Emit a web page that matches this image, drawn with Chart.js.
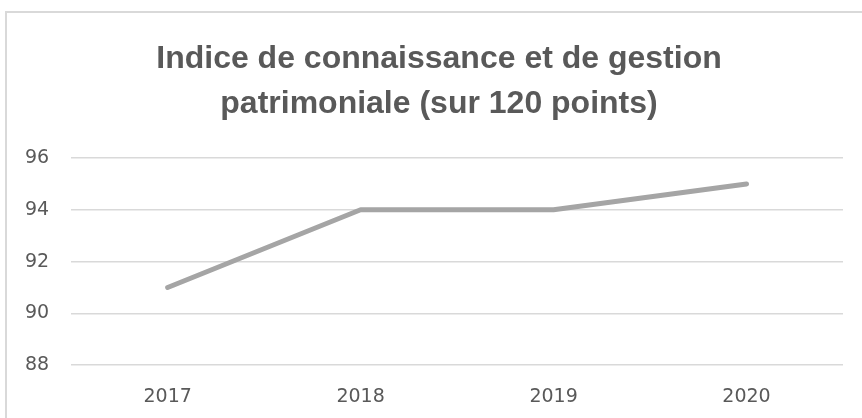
<!DOCTYPE html>
<html>
<head>
<meta charset="utf-8">
<script src="https://cdn.jsdelivr.net/npm/chart.js@4.4.0/dist/chart.umd.min.js"></script>
<style>
  html, body { margin: 0; padding: 0; background: #fff; }
  #wrap { position: relative; width: 862px; height: 418px; overflow: hidden; }
  #frame { position: absolute; left: 5px; top: 11px; width: 900px; height: 450px;
           border: 2px solid #d9d9d9; box-sizing: border-box; }
  #holder { position: absolute; left: 0; top: 0; width: 862px; height: 418px; }
</style>
</head>
<body>
<div id="wrap">
  <div id="frame"></div>
  <div id="holder"><canvas id="lineChart"></canvas></div>
</div>
<script>
const years = ["2017", "2018", "2019", "2020"];
const scores = [91, 94, 94, 95];
const titleLines = ["Indice de connaissance et de gestion", "patrimoniale (sur 120 points)"];

// title is centred on the whole frame, not on the plot, so draw it by hand
const centeredTitle = {
    id: 'centeredTitle',
    afterDraw(chart) {
        const c = chart.ctx;
        c.save();
        c.font = 'bold 32px "Liberation Sans"';
        c.fillStyle = '#595959';
        c.textAlign = 'center';
        c.textBaseline = 'alphabetic';
        titleLines.forEach((line, i) => c.fillText(line, 439, 68 + i * 45));
        c.restore();
    }
};

const ctx = document.getElementById("lineChart").getContext("2d");

new Chart(ctx, {
    type: 'line',
    data: {
        labels: years,
        datasets: [{
            label: 'Indice',
            data: scores,
            borderColor: '#a5a5a5',
            borderWidth: 5,
            borderCapStyle: 'round',
            borderJoinStyle: 'round',
            pointRadius: 0,
            tension: 0,
            fill: false
        }]
    },
    plugins: [centeredTitle],
    options: {
        responsive: true,
        maintainAspectRatio: false,
        animation: false,
        layout: { padding: { left: 3, right: 19, top: 158, bottom: -2 } },
        plugins: {
            legend: { display: false },
            tooltip: { enabled: false },
            title: { display: false }
        },
        scales: {
            x: {
                offset: true,
                grid: { display: false },
                border: { display: false },
                ticks: { color: '#595959', font: { family: 'DejaVu Sans', size: 19 }, padding: 12 }
            },
            y: {
                min: 88,
                max: 96,
                grid: { color: '#d9d9d9', lineWidth: 1.5, drawTicks: false },
                border: { display: false },
                ticks: { stepSize: 2, color: '#595959', font: { family: 'DejaVu Sans', size: 19 }, padding: 22 }
            }
        }
    }
});
</script>
</body>
</html>
